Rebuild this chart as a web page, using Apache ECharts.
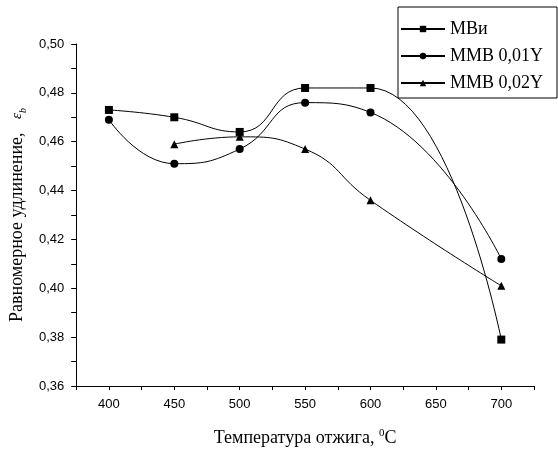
<!DOCTYPE html>
<html>
<head>
<meta charset="utf-8" />
<script src="https://cdn.jsdelivr.net/npm/echarts@6/dist/echarts.min.js"></script>
<style>
  html, body { margin: 0; padding: 0; background: #fff; }
</style>
</head>
<body>
<div id="main" style="width: 558px; height: 452px"></div>
<script>
  // temperatures, deg C
  const temps = [400, 450, 500, 550, 600, 700];
  const mbi = [0.473, 0.470, 0.464, 0.482, 0.482, 0.379];
  const mmb001 = [0.469, 0.451, 0.457, 0.476, 0.472, 0.412];
  const mmb002 = [null, 0.459, 0.462, 0.457, 0.436, 0.401];
  const seriesNames = ["МВи", "ММВ 0,01Y", "ММВ 0,02Y"];

  const pairs = (ys) =>
    temps.map((t, i) => [t, ys[i]]).filter((p) => p[1] !== null);

  const chartDom = document.getElementById("main");
  const myChart = echarts.init(chartDom);

  const serif = "Liberation Serif, Times New Roman, serif";
  const sans = "Liberation Sans, Arial, sans-serif";

  const lineSeries = (name, ys, symbol) => ({
    name: name,
    type: "line",
    data: pairs(ys),
    smooth: 0.5,
    symbol: symbol,
    symbolSize: 8,
    lineStyle: { color: "#000", width: 1 },
    itemStyle: { color: "#000" },
  });

  const option = {
    animation: false,
    backgroundColor: "#fff",
    grid: { left: 74, right: 24, top: 44, bottom: 66 },
    legend: {
      orient: "vertical",
      left: 398,
      top: 7,
      padding: [13, 14, 6, 2],
      itemGap: 9,
      itemWidth: 44,
      itemHeight: 8,
      borderColor: "#000",
      borderWidth: 1,
      textStyle: { fontFamily: serif, fontSize: 18, color: "#000", lineHeight: 18 },
      data: seriesNames,
    },
    xAxis: {
      type: "value",
      min: 375,
      max: 725,
      interval: 25,
      name: "{t|Температура отжига, }{s|0}{t|C}",
      nameLocation: "middle",
      nameGap: 42,
      nameTextStyle: {
        rich: {
          t: { fontFamily: serif, fontSize: 18, color: "#000", lineHeight: 20 },
          s: { fontFamily: serif, fontSize: 11, color: "#000", verticalAlign: "top", lineHeight: 20 },
        },
      },
      axisLine: { lineStyle: { color: "#000", width: 1 } },
      axisTick: { length: 4, lineStyle: { color: "#000" } },
      axisLabel: {
        margin: 12,
        fontFamily: sans,
        fontSize: 13,
        color: "#000",
        formatter: (v) => (v % 50 === 0 ? String(v) : ""),
      },
      splitLine: { show: false },
    },
    yAxis: {
      type: "value",
      min: 0.36,
      max: 0.5,
      interval: 0.01,
      name: "{t|Равномерное удлинение,   }{e|ε}{b|b}",
      nameLocation: "middle",
      nameGap: 32,
      nameTextStyle: {
        rich: {
          t: { fontFamily: serif, fontSize: 18, color: "#000", lineHeight: 22 },
          e: { fontFamily: serif, fontSize: 15, fontStyle: "italic", color: "#000", lineHeight: 22 },
          b: { fontFamily: serif, fontSize: 10, fontStyle: "italic", color: "#000", verticalAlign: "bottom", lineHeight: 10 },
        },
      },
      axisLine: { show: true, lineStyle: { color: "#000", width: 1 } },
      axisTick: { show: true, length: 5, lineStyle: { color: "#000" } },
      axisLabel: {
        margin: 12,
        fontFamily: sans,
        fontSize: 13,
        color: "#000",
        formatter: (v) =>
          Math.round(v * 100) % 2 === 0 ? v.toFixed(2).replace(".", ",") : "",
      },
      splitLine: { show: false },
    },
    series: [
      lineSeries(seriesNames[0], mbi, "rect"),
      lineSeries(seriesNames[1], mmb001, "circle"),
      lineSeries(seriesNames[2], mmb002, "triangle"),
    ],
  };

  option && myChart.setOption(option);
</script>
</body>
</html>
